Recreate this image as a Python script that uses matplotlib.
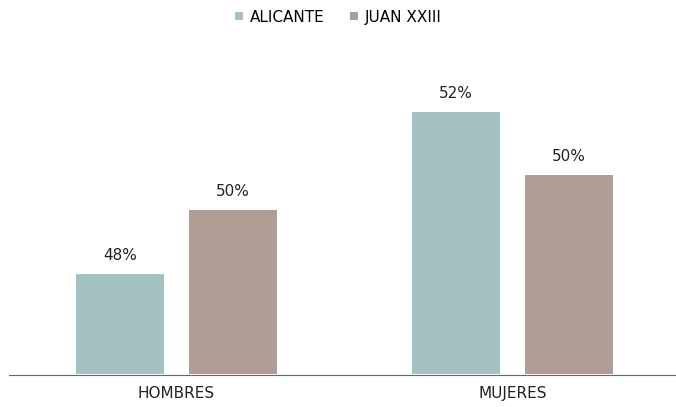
import matplotlib.pyplot as plt
import numpy as np

plt.rcParams['font.family'] = ['DejaVu Sans']

categories = ["HOMBRES", "MUJERES"]
series = ["ALICANTE", "JUAN XXIII"]
alicante = [48.23, 51.77]
juan = [49.62, 50.38]
colors = ["#a4c1c1", "#ae9c95"]

fig = plt.figure(figsize=(6.76, 4.07), dpi=100)
ax = fig.add_axes([8.5 / 676, 1 - 375 / 407, 672 / 676, 335 / 407])

x = np.arange(len(categories))
width = 0.27
offset = 0.168
for vals, off, col, name in zip([alicante, juan], [-offset, offset], colors, series):
    bars = ax.bar(x + off, np.array(vals) - 46, width, bottom=46, color=col,
                  edgecolor="white", linewidth=1.5, label=name)
    for b, v in zip(bars, vals):
        ax.text(b.get_x() + b.get_width() / 2, v + 0.22, f"{round(v)}%",
                ha="center", va="bottom", fontsize=11, color="#222222")

ax.set_xlim(-0.5, 1.5)
ax.set_ylim(46, 46 + 335 / 45.8)
ax.set_xticks(x)
ax.set_xticklabels(categories, fontsize=11, color="#222222")
ax.tick_params(axis="x", length=0, pad=8)
ax.set_yticks([])
for s in ["top", "right", "left"]:
    ax.spines[s].set_visible(False)
ax.spines["bottom"].set_color("#666666")
ax.spines["bottom"].set_linewidth(0.8)

fig.legend(loc="upper center", bbox_to_anchor=(0.5, 1.01), ncol=2, frameon=False,
           fontsize=11, handlelength=0.65, handleheight=0.65, columnspacing=1.6,
           handletextpad=0.4)

fig.savefig("out.png", dpi=100)
